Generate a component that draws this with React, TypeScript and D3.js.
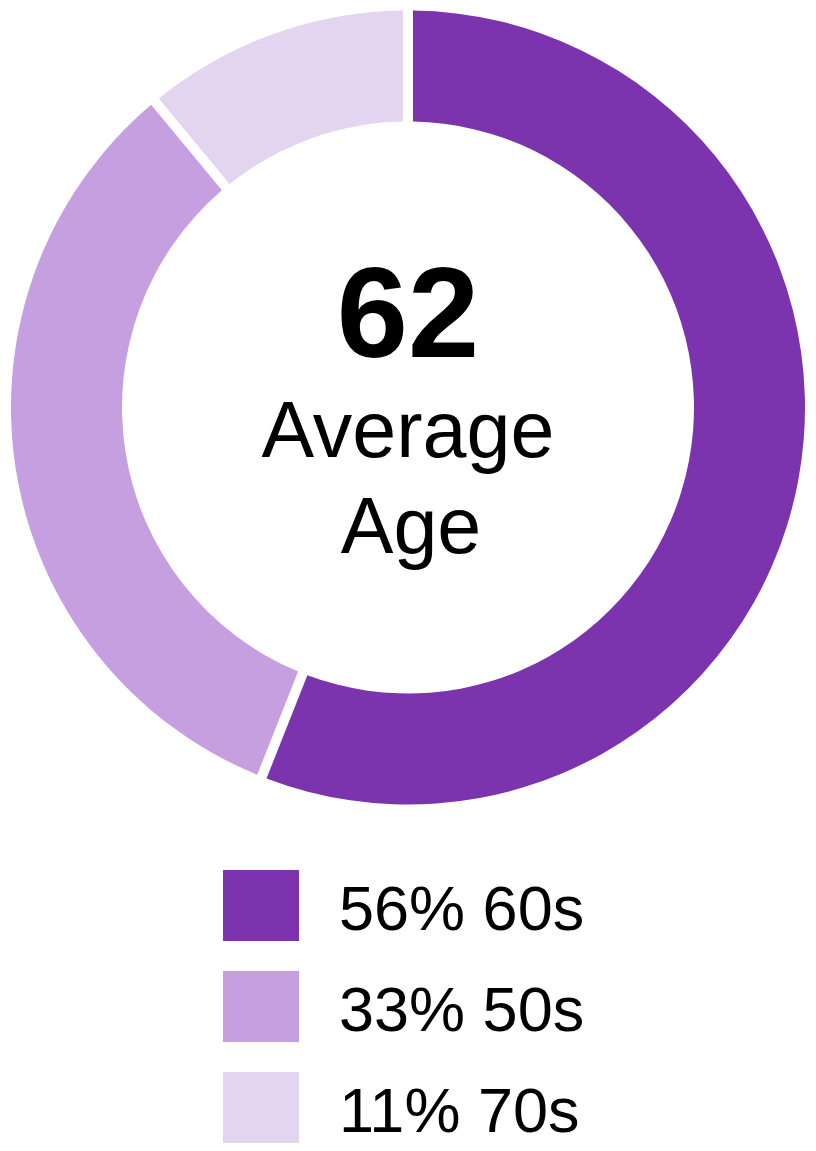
import React from "react";
import * as d3 from "d3";

const labels = ["60s", "50s", "70s"];
const percents = [56, 33, 11];
const colors = ["#7B33AE", "#C59FE0", "#E3D4EF"];
const centerValue = "62";
const centerLines = ["Average", "Age"];

export default function App() {
  const W = 816;
  const H = 1151;
  const cx = 408;
  const cy = 407.5;
  const outerR = 397;
  const innerR = 286;

  const pie = d3.pie<number>().sort(null).value((d) => d)(percents);
  const arc = d3
    .arc<d3.PieArcDatum<number>>()
    .innerRadius(innerR)
    .outerRadius(outerR)
    .padRadius(400)
    .padAngle(10 / 400);

  const legendY = d3.scaleBand<number>().domain(percents.map((_, i) => i)).range([870, 1173]).paddingInner(0);

  const font = "'Liberation Sans', Arial, sans-serif";

  return (
    <svg
      width={W}
      height={H}
      style={{ position: "absolute", left: 0, top: 0, background: "#fff" }}
    >
      <g transform={`translate(${cx},${cy})`}>
        {pie.map((p, i) => (
          <path key={i} d={arc(p) || ""} fill={colors[i]} />
        ))}
      </g>
      <text x={cx} y={357} textAnchor="middle" fontFamily={font} fontWeight="bold" fontSize={128} fill="#000">
        {centerValue}
      </text>
      <text x={cx} y={457} textAnchor="middle" fontFamily={font} fontSize={79} fill="#000">
        {centerLines[0]}
      </text>
      <text x={cx + 3} y={553} textAnchor="middle" fontFamily={font} fontSize={79} fill="#000">
        {centerLines[1]}
      </text>
      {percents.map((v, i) => {
        const y = legendY(i) as number;
        return (
          <g key={i}>
            <rect x={223} y={y} width={76} height={71} fill={colors[i]} />
            <text x={339} y={y + 60} fontFamily={font} fontSize={63} fill="#000">
              {`${v}% ${labels[i]}`}
            </text>
          </g>
        );
      })}
    </svg>
  );
}
